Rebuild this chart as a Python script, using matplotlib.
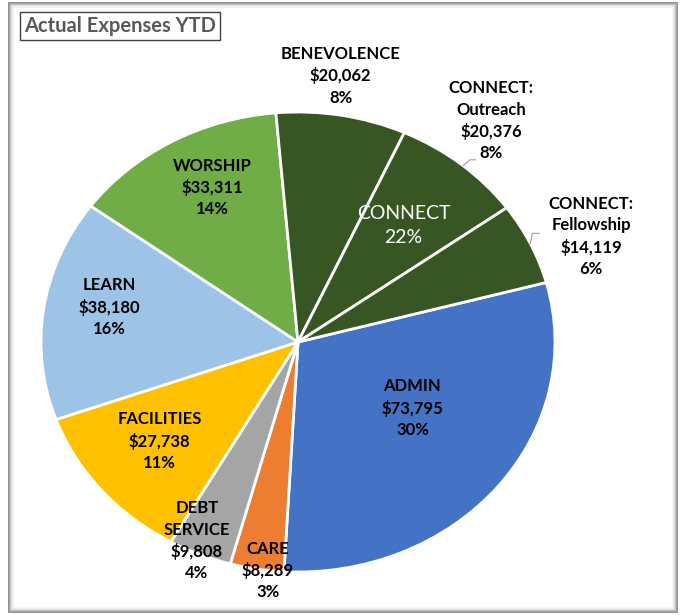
import numpy as np
import matplotlib
matplotlib.use("Agg")
import matplotlib.pyplot as plt
from matplotlib.patches import Rectangle

plt.rcParams['font.family'] = ['Lato', 'DejaVu Sans']

# data, clockwise starting from ADMIN
names = ['ADMIN', 'CARE', 'DEBT\nSERVICE', 'FACILITIES', 'LEARN', 'WORSHIP',
         'BENEVOLENCE', 'CONNECT:\nOutreach', 'CONNECT:\nFellowship']
amounts = [73795, 8289, 9808, 27738, 38180, 33311, 20062, 20376, 14119]
colors = ['#4472C4', '#ED7D31', '#A5A5A5', '#FFC000', '#9DC3E6', '#70AD47',
          '#375623', '#375623', '#375623']
connect_idx = [6, 7, 8]
connect_name = 'CONNECT'

# label placement: radius (pie = 1) and angle tweak from wedge middle
lab_r = [0.53, 1.0, 0.95, 0.69, 0.75, 0.75, 1.17, 1.22, 1.23]
lab_da = [6.2, 2.5, -2.0, -1.3, -3.4, -2.9, 1.6, 1.4, -3.4]
# leader lines: index, angle tweak, elbow step, end step
leaders = [(7, -0.6, (0.027, 0.026), 0.02), (8, 0.0, (0.008, 0.044), 0.027)]

W, H = 680, 615
fig = plt.figure(figsize=(W / 100, H / 100), dpi=100)
fig.patch.set_facecolor('white')

# pie is a bit squashed: 257 px wide radius, 230 px tall
cx, cy, rx, ry = 298, 342, 257, 230
ax = fig.add_axes([(cx - rx) / W, (H - cy - ry) / H, 2 * rx / W, 2 * ry / H])

start = 15
wedges, _ = ax.pie(amounts, colors=colors, startangle=start, counterclock=False,
                   radius=1, wedgeprops=dict(edgecolor='white', linewidth=2))
ax.set_aspect('auto')
ax.set_xlim(-1, 1)
ax.set_ylim(-1, 1)
ax.axis('off')

total = sum(amounts)
frac = np.array(amounts) / total
ends = start - 360 * np.cumsum(frac)
starts = ends + 360 * frac
mids = (starts + ends) / 2

for i, name in enumerate(names):
    a = np.radians(mids[i] + lab_da[i])
    x, y = lab_r[i] * np.cos(a), lab_r[i] * np.sin(a)
    txt = '%s\n${:,}\n%d%%'.format(amounts[i]) % (name, round(frac[i] * 100))
    ax.text(x, y, txt, ha='center', va='center', fontsize=12, fontweight='bold',
            color='black', linespacing=1.4, clip_on=False)

# small leader lines for the two connect labels
for i, da, (ex, ey), dx in leaders:
    a = np.radians(mids[i] + da)
    x0, y0 = np.cos(a), np.sin(a)
    ax.plot([x0, x0 + ex, x0 + ex + dx], [y0, y0 + ey, y0 + ey],
            color='#a6a6a6', lw=0.9, clip_on=False)

# combined connect label
c_start, c_end = starts[connect_idx[0]], ends[connect_idx[-1]]
c_frac = frac[connect_idx].sum()
a = np.radians((c_start + c_end) / 2 - 3.9)
ax.text(0.653 * np.cos(a), 0.653 * np.sin(a),
        '%s\n%d%%' % (connect_name, round(c_frac * 100)),
        ha='center', va='center', fontsize=14, color='white', linespacing=1.5)

# title box
fig.text(120 / W, 1 - 26 / H, 'Actual Expenses YTD', ha='center', va='center',
         fontsize=14.5, fontweight='bold', color='#595959',
         bbox=dict(boxstyle='square,pad=0.22', facecolor='white',
                   edgecolor='#404040', linewidth=1))

# chart frame with soft shadow
for k, c in enumerate(['#7f7f7f', '#a6a6a6', '#c8c8c8', '#e2e2e2', '#f0f0f0']):
    fig.add_artist(Rectangle(((9 + k) / W, (3 + k) / H), (668 - 2 * k) / W,
                             (609 - 2 * k) / H, transform=fig.transFigure,
                             fill=False, edgecolor=c, lw=1.2))

fig.savefig('out.png', dpi=100)
